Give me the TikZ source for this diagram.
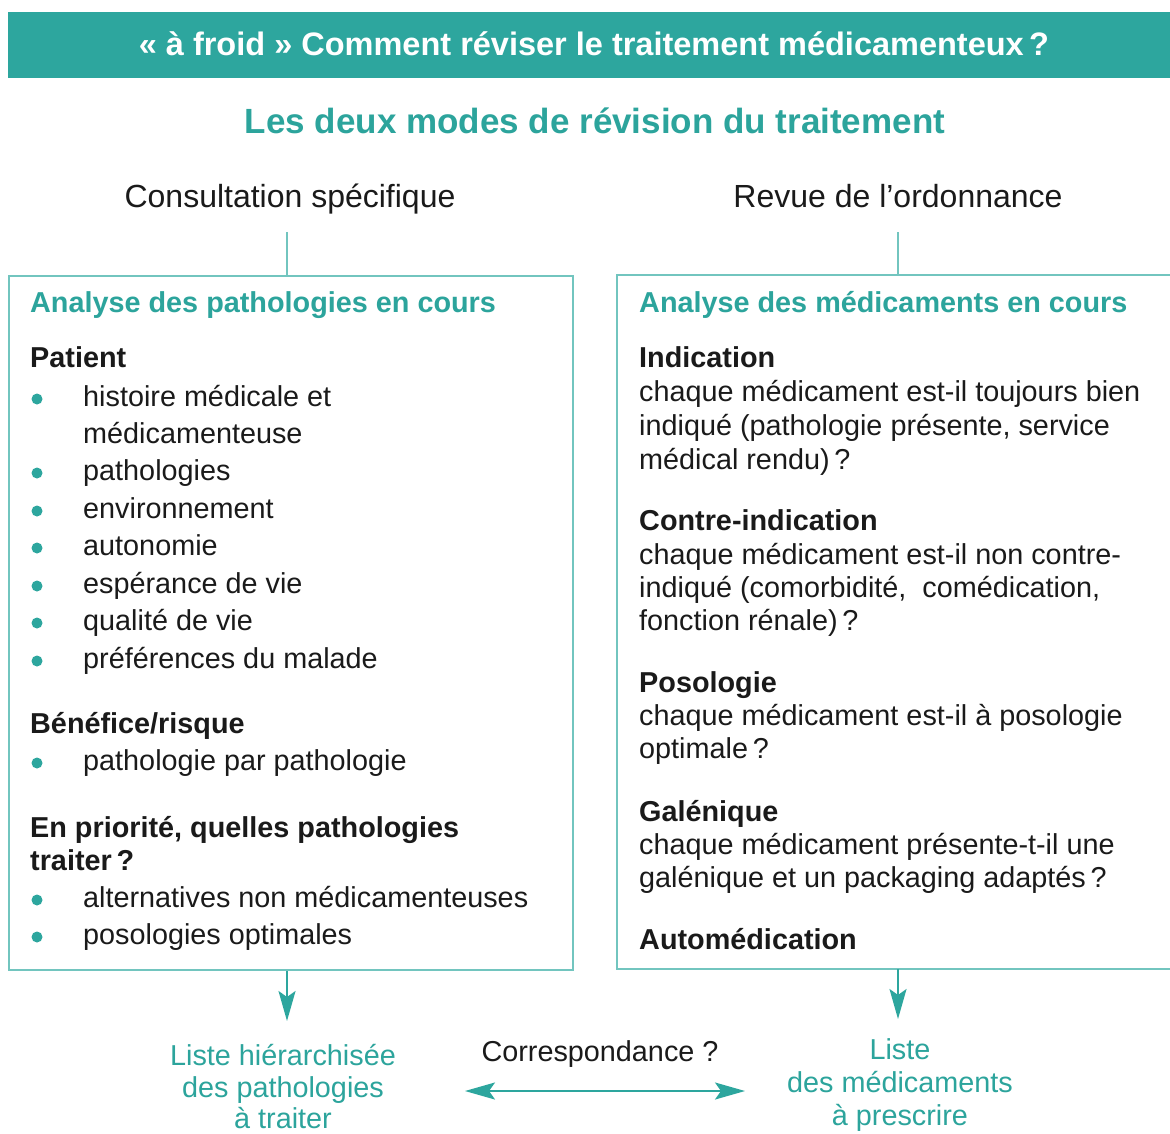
\documentclass[tikz,border=0pt]{standalone}
\usepackage{fontspec}
\setmainfont{Liberation Sans}
\usetikzlibrary{arrows.meta}
\definecolor{teal1}{HTML}{2DA69E}
\definecolor{tealline}{HTML}{72C5BF}
\definecolor{tealtxt}{HTML}{2CA49C}
\definecolor{ink}{HTML}{1A1A1A}
\begin{document}
\begin{tikzpicture}[x=1pt,y=-1pt,
  txt/.style={anchor=base west, inner sep=0pt, text=ink, font=\fontsize{28.8}{34}\selectfont},
  hd/.style={txt, font=\fontsize{28.8}{34}\selectfont\bfseries},
  thd/.style={txt, text=tealtxt, font=\fontsize{28.8}{34}\selectfont\bfseries},
  ctxt/.style={anchor=base, inner sep=0pt, text=ink, font=\fontsize{28.8}{34}\selectfont},
  tctxt/.style={ctxt, text=tealtxt},
  dotb/.style={circle, fill=teal1, inner sep=0pt, minimum size=11pt},
  boxline/.style={draw=tealline, line width=2pt},
  tipA/.style={},
  arr/.style={draw=teal1, line width=2pt, -{Stealth[length=30pt,width=17pt,inset=6pt]}},
  darr/.style={draw=teal1, line width=2pt, {Stealth[length=30pt,width=17pt,inset=6pt]}-{Stealth[length=30pt,width=17pt,inset=6pt]}}
]
\useasboundingbox (0,0) rectangle (1170,1133);
\fill[white] (0,0) rectangle (1170,1133);

% banner
\fill[teal1] (8,12) rectangle (1170,78);
\node[anchor=base, inner sep=0pt, text=white, font=\fontsize{32.5}{36}\selectfont\bfseries] (title) at (594,55) {« à froid » Comment réviser le traitement médicamenteux\,?};
\node[anchor=base, inner sep=0pt, text=tealtxt, font=\fontsize{35}{40}\selectfont\bfseries] (subtitle) at (595,133) {Les deux modes de révision du traitement};

% column titles
\node[anchor=base, inner sep=0pt, text=ink, font=\fontsize{32}{36}\selectfont] (cons) at (290,207) {Consultation spécifique};
\node[anchor=base, inner sep=0pt, text=ink, font=\fontsize{32}{36}\selectfont] (revue) at (898,207) {Revue de l’ordonnance};

% boxes
\node[boxline, anchor=north west, minimum width=564pt, minimum height=694pt, inner sep=0pt] (lbox) at (8,275) {};
\coordinate (rtl) at (617,275);
\coordinate (rtr) at (1170,275);
\coordinate (rbl) at (617,969);
\coordinate (rbr) at (1170,969);
\draw[boxline] (rtr) -- (rtl) -- (rbl) -- (rbr);
\coordinate (rtop) at (898,275);
\coordinate (rbot) at (898,969);

% connectors from titles
\coordinate (lstem) at (287,232);
\coordinate (rstem) at (898,232);
\draw[boxline] (lstem) -- (lstem |- lbox.north);
\draw[boxline] (rstem) -- (rtop);

% left box content
\node[thd] (lh) at (30,312) {Analyse des pathologies en cours};
\node[hd] (lpat) at (30,367) {Patient};
\foreach \n/\y/\t in {a/406/histoire médicale et, c/480/pathologies, d/518/environnement, e/555/autonomie, f/593/espérance de vie, g/630/qualité de vie, h/668/préférences du malade}{
  \node[txt] (l\n) at (83,\y) {\t};
  \node[dotb] (ld\n) at (37,\y-7) {};
}
\node[txt] (lb) at (83,443) {médicamenteuse};
\node[hd] (lben) at (30,733) {Bénéfice/risque};
\node[txt] (lpp) at (83,770) {pathologie par pathologie};
\node[dotb] (ldpp) at (37,763) {};
\node[hd] (lprio) at (30,837) {En priorité, quelles pathologies};
\node[hd] (ltrait) at (30,870) {traiter\,?};
\node[txt] (lalt) at (83,907) {alternatives non médicamenteuses};
\node[dotb] (ldalt) at (37,900) {};
\node[txt] (lpos) at (83,944) {posologies optimales};
\node[dotb] (ldpos) at (37,937) {};

% right box content
\node[thd] (rh) at (639,312) {Analyse des médicaments en cours};
\node[hd] (rind) at (639,367) {Indication};
\node[txt] (r1) at (639,401) {chaque médicament est-il toujours bien};
\node[txt] (r2) at (639,435) {indiqué (pathologie présente, service};
\node[txt] (r3) at (639,469) {médical rendu)\,?};
\node[hd] (rci) at (639,530) {Contre-indication};
\node[txt] (r4) at (639,564) {chaque médicament est-il non contre-};
\node[txt] (r5) at (639,597) {indiqué (comorbidité,\ \ comédication,};
\node[txt] (r6) at (639,630) {fonction rénale)\,?};
\node[hd] (rpos) at (639,692) {Posologie};
\node[txt] (r7) at (639,725) {chaque médicament est-il à posologie};
\node[txt] (r8) at (639,758) {optimale\,?};
\node[hd] (rgal) at (639,821) {Galénique};
\node[txt] (r9) at (639,854) {chaque médicament présente-t-il une};
\node[txt] (r10) at (639,887) {galénique et un packaging adaptés\,?};
\node[hd] (rauto) at (639,949) {Automédication};

% bottom results
\node[tctxt] (lres1) at (283,1065) {Liste hiérarchisée};
\node[tctxt] (lres2) at (283,1097) {des pathologies};
\node[tctxt] (lres3) at (283,1128) {à traiter};
\node[tctxt] (rres1) at (900,1059) {Liste};
\node[tctxt] (rres2) at (900,1092) {des médicaments};
\node[tctxt] (rres3) at (900,1125) {à prescrire};
\node[ctxt] (corr) at (600,1061) {Correspondance ?};

\coordinate (ltip) at (287,1021);
\coordinate (rtip) at (898,1019);
\draw[arr] (lstem |- lbox.south) -- (ltip);
\draw[arr] (rbot) -- (rtip);
\coordinate (hl) at (465,1091);
\coordinate (hr) at (745,1091);
\draw[darr] (hl) -- (hr);
\end{tikzpicture}
\end{document}
